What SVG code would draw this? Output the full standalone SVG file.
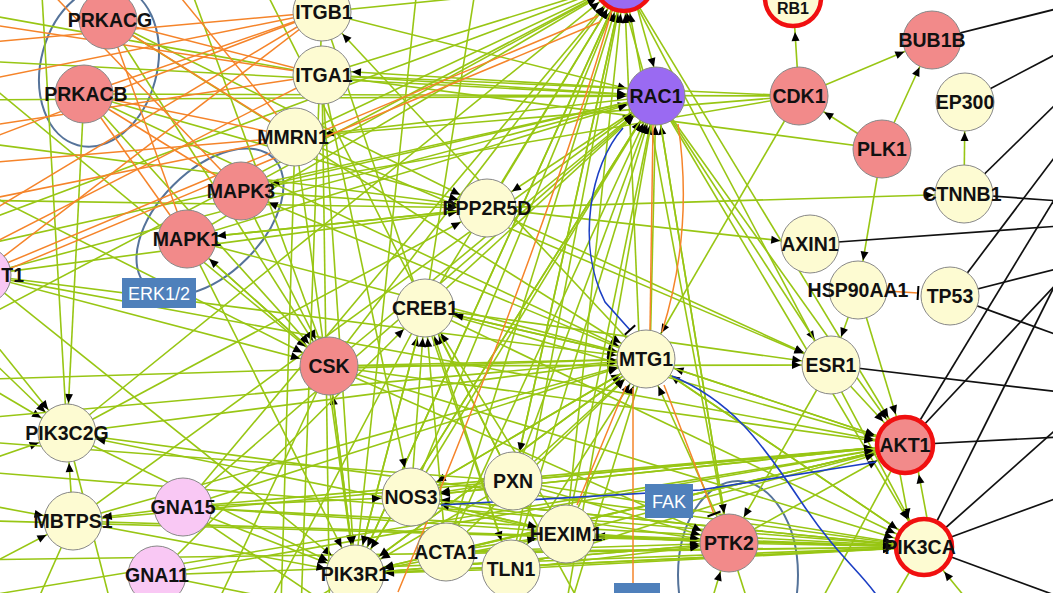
<svg xmlns="http://www.w3.org/2000/svg" width="1053" height="593" viewBox="0 0 1053 593">
<style>
.a,.b,.n,.o,.k,.bl{fill:none;stroke-width:1.6}
.a,.b,.n{stroke:#98c614}
.a{marker-end:url(#ma)}
.b{marker-end:url(#mb)}
.o{stroke:#f5842a;stroke-width:1.5}
.k{stroke:#111;stroke-width:1.7}
.bl{stroke:#1c3fc4;stroke-width:1.6}
.ah{fill:#000;stroke:none}
.tee{fill:none;stroke:#000;stroke-width:2}
.nd circle{stroke:#888;stroke-width:1}
.y circle{fill:#fdfbd2}
.p circle{fill:#f28a8a}
.v circle{fill:#9a6af2}
.l circle{fill:#f9c8f4}
.r circle{stroke:#f01010;stroke-width:4.5}
.nd text{font-family:"Liberation Sans",Arial,sans-serif;font-weight:bold;font-size:19.5px;text-anchor:middle;fill:#111}
.ell{fill:none;stroke:#55739a;stroke-width:2}
.box rect{fill:#4f80bb}
.box text{font-family:"Liberation Sans",Arial,sans-serif;font-size:18px;fill:#fff;text-anchor:middle}
</style>
<defs>
<marker id="ma" markerUnits="userSpaceOnUse" orient="auto" refX="30" refY="0" markerWidth="10" markerHeight="10" overflow="visible"><path class="ah" d="M0,0L-9,-4L-9,4Z"/></marker>
<marker id="mb" markerUnits="userSpaceOnUse" orient="auto" refX="32" refY="0" markerWidth="10" markerHeight="10" overflow="visible"><path class="ah" d="M0,0L-9,-4L-9,4Z"/></marker>
<marker id="mt" markerUnits="userSpaceOnUse" orient="auto" refX="0" refY="0" markerWidth="10" markerHeight="10" overflow="visible"><path class="tee" d="M0,-7L0,7"/></marker>
</defs>
<rect width="1053" height="593" fill="#fff"/>
<ellipse class="ell" cx="99" cy="66" rx="58" ry="82" transform="rotate(15 99 66)"/>
<ellipse class="ell" cx="210" cy="222" rx="90" ry="52" transform="rotate(-45 210 222)"/>
<ellipse class="ell" cx="738" cy="575" rx="60" ry="94"/>
<g id="connectors">
<g id="green">
<line class="a" x1="799" y1="96" x2="932" y2="40"/>
<line class="b" x1="799" y1="96" x2="793" y2="0"/>
<line class="a" x1="882" y1="149" x2="932" y2="40"/>
<line class="a" x1="882" y1="149" x2="799" y2="96"/>
<line class="a" x1="882" y1="149" x2="858" y2="290"/>
<line class="a" x1="964" y1="194" x2="965" y2="102"/>
<line class="a" x1="487" y1="208" x2="964" y2="194"/>
<line class="a" x1="487" y1="208" x2="810" y2="244"/>
<line class="a" x1="858" y1="290" x2="831" y2="365"/>
<line class="b" x1="858" y1="290" x2="905" y2="445"/>
<line class="b" x1="831" y1="365" x2="905" y2="445"/>
<line class="b" x1="895" y1="447" x2="914" y2="549"/>
<line class="b" x1="932" y1="545" x2="913" y2="443"/>
<line class="a" x1="799" y1="96" x2="646" y2="359"/>
<line class="n" x1="322" y1="75" x2="799" y2="96"/>
<line class="n" x1="84" y1="94" x2="799" y2="96"/>
<line class="n" x1="295" y1="137" x2="799" y2="96"/>
<line class="n" x1="241" y1="191" x2="799" y2="96"/>
<line class="n" x1="882" y1="149" x2="322" y2="75"/>
<line class="b" x1="295" y1="137" x2="624" y2="-18"/>
<line class="b" x1="322" y1="75" x2="624" y2="-18"/>
<line class="b" x1="322" y1="12" x2="624" y2="-18"/>
<line class="b" x1="487" y1="208" x2="624" y2="-18"/>
<line class="b" x1="425" y1="308" x2="624" y2="-18"/>
<line class="b" x1="329" y1="366" x2="624" y2="-18"/>
<line class="b" x1="241" y1="191" x2="624" y2="-18"/>
<line class="b" x1="187" y1="239" x2="624" y2="-18"/>
<line class="b" x1="355" y1="574" x2="624" y2="-18"/>
<line class="b" x1="411" y1="497" x2="624" y2="-18"/>
<line class="b" x1="446" y1="552" x2="624" y2="-18"/>
<line class="b" x1="513" y1="481" x2="624" y2="-18"/>
<line class="b" x1="511" y1="569" x2="624" y2="-18"/>
<line class="b" x1="566" y1="534" x2="624" y2="-18"/>
<line class="b" x1="640" y1="359" x2="624" y2="-18"/>
<line class="b" x1="183" y1="507" x2="624" y2="-18"/>
<line class="b" x1="67" y1="433" x2="624" y2="-18"/>
<line class="b" x1="729" y1="543" x2="624" y2="-18"/>
<line class="b" x1="-40" y1="330" x2="624" y2="-18"/>
<line class="b" x1="-40" y1="230" x2="624" y2="-18"/>
<line class="b" x1="650" y1="96" x2="618" y2="-18"/>
<line class="a" x1="630" y1="-18" x2="662" y2="96"/>
<line class="a" x1="322" y1="12" x2="656" y2="96"/>
<line class="a" x1="322" y1="75" x2="656" y2="96"/>
<line class="a" x1="329" y1="366" x2="656" y2="96"/>
<line class="a" x1="425" y1="308" x2="656" y2="96"/>
<line class="a" x1="411" y1="497" x2="656" y2="96"/>
<line class="a" x1="355" y1="574" x2="656" y2="96"/>
<line class="a" x1="446" y1="552" x2="656" y2="96"/>
<line class="a" x1="513" y1="481" x2="656" y2="96"/>
<line class="a" x1="511" y1="569" x2="656" y2="96"/>
<line class="a" x1="566" y1="534" x2="656" y2="96"/>
<line class="a" x1="650" y1="359" x2="656" y2="96"/>
<line class="a" x1="183" y1="507" x2="656" y2="96"/>
<line class="a" x1="73" y1="521" x2="656" y2="96"/>
<line class="a" x1="729" y1="543" x2="656" y2="96"/>
<line class="a" x1="187" y1="239" x2="656" y2="96"/>
<line class="a" x1="-18" y1="275" x2="656" y2="96"/>
<line class="a" x1="-40" y1="100" x2="656" y2="96"/>
<line class="a" x1="-40" y1="60" x2="656" y2="96"/>
<line class="a" x1="656" y1="96" x2="487" y2="208"/>
<line class="a" x1="656" y1="90" x2="322" y2="70"/>
<line class="a" x1="656" y1="96" x2="295" y2="137"/>
<line class="a" x1="656" y1="96" x2="241" y2="191"/>
<line class="b" x1="656" y1="96" x2="905" y2="445"/>
<line class="b" x1="656" y1="96" x2="924" y2="547"/>
<line class="a" x1="656" y1="96" x2="831" y2="365"/>
<line class="a" x1="329" y1="366" x2="646" y2="359"/>
<line class="a" x1="425" y1="308" x2="646" y2="359"/>
<line class="a" x1="411" y1="497" x2="646" y2="359"/>
<line class="a" x1="513" y1="481" x2="646" y2="359"/>
<line class="a" x1="446" y1="552" x2="646" y2="359"/>
<line class="a" x1="355" y1="574" x2="646" y2="359"/>
<line class="a" x1="511" y1="569" x2="646" y2="359"/>
<line class="a" x1="566" y1="534" x2="646" y2="359"/>
<line class="a" x1="183" y1="507" x2="646" y2="359"/>
<line class="a" x1="73" y1="521" x2="646" y2="359"/>
<line class="a" x1="67" y1="433" x2="646" y2="359"/>
<line class="a" x1="-18" y1="275" x2="646" y2="359"/>
<line class="a" x1="729" y1="543" x2="646" y2="359"/>
<line class="a" x1="924" y1="547" x2="646" y2="359"/>
<line class="a" x1="905" y1="445" x2="646" y2="359"/>
<line class="a" x1="-40" y1="380" x2="646" y2="359"/>
<line class="a" x1="187" y1="239" x2="646" y2="359"/>
<line class="a" x1="84" y1="94" x2="646" y2="359"/>
<line class="a" x1="108" y1="20" x2="646" y2="359"/>
<line class="a" x1="646" y1="359" x2="322" y2="12"/>
<line class="b" x1="355" y1="574" x2="924" y2="547"/>
<line class="b" x1="446" y1="552" x2="924" y2="547"/>
<line class="b" x1="511" y1="569" x2="924" y2="547"/>
<line class="b" x1="566" y1="534" x2="924" y2="547"/>
<line class="b" x1="513" y1="481" x2="924" y2="547"/>
<line class="b" x1="411" y1="497" x2="924" y2="547"/>
<line class="b" x1="329" y1="366" x2="924" y2="547"/>
<line class="b" x1="183" y1="507" x2="924" y2="547"/>
<line class="b" x1="157" y1="575" x2="924" y2="547"/>
<line class="b" x1="73" y1="521" x2="924" y2="547"/>
<line class="b" x1="646" y1="359" x2="924" y2="547"/>
<line class="b" x1="729" y1="543" x2="924" y2="547"/>
<line class="b" x1="425" y1="308" x2="924" y2="547"/>
<line class="b" x1="-40" y1="560" x2="924" y2="547"/>
<line class="b" x1="624" y1="-18" x2="924" y2="547"/>
<line class="b" x1="67" y1="433" x2="924" y2="547"/>
<line class="b" x1="-40" y1="470" x2="924" y2="547"/>
<line class="b" x1="355" y1="574" x2="905" y2="445"/>
<line class="b" x1="446" y1="552" x2="905" y2="445"/>
<line class="b" x1="411" y1="497" x2="905" y2="445"/>
<line class="b" x1="513" y1="481" x2="905" y2="445"/>
<line class="b" x1="566" y1="534" x2="905" y2="445"/>
<line class="b" x1="329" y1="366" x2="905" y2="445"/>
<line class="b" x1="73" y1="521" x2="905" y2="445"/>
<line class="b" x1="183" y1="507" x2="905" y2="445"/>
<line class="b" x1="-18" y1="275" x2="905" y2="445"/>
<line class="b" x1="646" y1="359" x2="905" y2="445"/>
<line class="b" x1="729" y1="543" x2="905" y2="445"/>
<line class="b" x1="425" y1="308" x2="905" y2="445"/>
<line class="b" x1="624" y1="-18" x2="905" y2="445"/>
<line class="b" x1="511" y1="569" x2="905" y2="445"/>
<line class="b" x1="157" y1="575" x2="905" y2="445"/>
<line class="a" x1="108" y1="20" x2="329" y2="366"/>
<line class="a" x1="84" y1="94" x2="329" y2="366"/>
<line class="a" x1="-18" y1="275" x2="329" y2="366"/>
<line class="a" x1="-40" y1="60" x2="329" y2="366"/>
<line class="a" x1="-40" y1="180" x2="329" y2="366"/>
<line class="a" x1="187" y1="239" x2="329" y2="366"/>
<line class="a" x1="355" y1="574" x2="329" y2="366"/>
<line class="a" x1="241" y1="191" x2="329" y2="366"/>
<line class="a" x1="355" y1="574" x2="425" y2="308"/>
<line class="a" x1="446" y1="552" x2="425" y2="308"/>
<line class="a" x1="411" y1="497" x2="425" y2="308"/>
<line class="a" x1="511" y1="569" x2="425" y2="308"/>
<line class="a" x1="513" y1="481" x2="425" y2="308"/>
<line class="a" x1="566" y1="534" x2="425" y2="308"/>
<line class="a" x1="646" y1="359" x2="425" y2="308"/>
<line class="a" x1="157" y1="575" x2="425" y2="308"/>
<line class="a" x1="108" y1="20" x2="487" y2="208"/>
<line class="a" x1="84" y1="94" x2="487" y2="208"/>
<line class="a" x1="-18" y1="275" x2="487" y2="208"/>
<line class="a" x1="241" y1="191" x2="487" y2="208"/>
<line class="a" x1="187" y1="239" x2="487" y2="208"/>
<line class="a" x1="-40" y1="140" x2="487" y2="208"/>
<line class="a" x1="-40" y1="200" x2="487" y2="208"/>
<line class="a" x1="67" y1="433" x2="487" y2="208"/>
<line class="a" x1="329" y1="366" x2="355" y2="574"/>
<line class="a" x1="646" y1="359" x2="355" y2="574"/>
<line class="a" x1="513" y1="481" x2="355" y2="574"/>
<line class="a" x1="656" y1="96" x2="355" y2="574"/>
<line class="a" x1="624" y1="-18" x2="355" y2="574"/>
<line class="a" x1="905" y1="445" x2="355" y2="574"/>
<line class="a" x1="924" y1="547" x2="355" y2="574"/>
<line class="a" x1="729" y1="543" x2="355" y2="574"/>
<line class="a" x1="566" y1="534" x2="355" y2="574"/>
<line class="a" x1="511" y1="569" x2="355" y2="574"/>
<line class="a" x1="183" y1="507" x2="355" y2="574"/>
<line class="a" x1="73" y1="521" x2="355" y2="574"/>
<line class="a" x1="67" y1="433" x2="355" y2="574"/>
<line class="a" x1="187" y1="239" x2="355" y2="574"/>
<line class="a" x1="-18" y1="275" x2="355" y2="574"/>
<line class="a" x1="425" y1="308" x2="355" y2="574"/>
<line class="a" x1="295" y1="137" x2="355" y2="574"/>
<line class="a" x1="322" y1="75" x2="355" y2="574"/>
<line class="a" x1="-40" y1="330" x2="67" y2="433"/>
<line class="a" x1="-40" y1="370" x2="67" y2="433"/>
<line class="a" x1="73" y1="521" x2="67" y2="433"/>
<line class="a" x1="-40" y1="470" x2="67" y2="433"/>
<line class="a" x1="566" y1="534" x2="67" y2="433"/>
<line class="a" x1="-40" y1="300" x2="67" y2="433"/>
<line class="a" x1="84" y1="94" x2="67" y2="433"/>
<line class="a" x1="183" y1="507" x2="73" y2="521"/>
<line class="a" x1="-40" y1="580" x2="73" y2="521"/>
<line class="a" x1="-40" y1="500" x2="73" y2="521"/>
<line class="a" x1="646" y1="359" x2="241" y2="191"/>
<line class="a" x1="487" y1="208" x2="187" y2="239"/>
<line class="a" x1="329" y1="366" x2="187" y2="239"/>
<line class="a" x1="624" y1="-18" x2="513" y2="481"/>
<line class="a" x1="513" y1="481" x2="411" y2="497"/>
<line class="a" x1="566" y1="534" x2="411" y2="497"/>
<line class="a" x1="646" y1="359" x2="411" y2="497"/>
<line class="a" x1="924" y1="547" x2="411" y2="497"/>
<line class="a" x1="905" y1="445" x2="411" y2="497"/>
<line class="a" x1="183" y1="507" x2="411" y2="497"/>
<line class="a" x1="411" y1="497" x2="566" y2="534"/>
<line class="a" x1="729" y1="543" x2="566" y2="534"/>
<line class="a" x1="446" y1="552" x2="566" y2="534"/>
<line class="a" x1="513" y1="481" x2="729" y2="543"/>
<line class="a" x1="566" y1="534" x2="729" y2="543"/>
<line class="a" x1="511" y1="569" x2="729" y2="543"/>
<line class="a" x1="446" y1="552" x2="729" y2="543"/>
<line class="a" x1="411" y1="497" x2="729" y2="543"/>
<line class="a" x1="355" y1="574" x2="729" y2="543"/>
<line class="a" x1="329" y1="366" x2="729" y2="543"/>
<line class="a" x1="831" y1="365" x2="729" y2="543"/>
<line class="a" x1="700" y1="640" x2="729" y2="543"/>
<line class="a" x1="656" y1="96" x2="729" y2="543"/>
<line class="a" x1="183" y1="507" x2="729" y2="543"/>
<line class="a" x1="425" y1="308" x2="831" y2="365"/>
<line class="a" x1="487" y1="208" x2="831" y2="365"/>
<line class="a" x1="295" y1="137" x2="831" y2="365"/>
<line class="a" x1="329" y1="366" x2="831" y2="365"/>
<line class="a" x1="322" y1="12" x2="511" y2="569"/>
<line class="a" x1="322" y1="75" x2="411" y2="497"/>
<line class="b" x1="1000" y1="640" x2="924" y2="547"/>
<line class="b" x1="-40" y1="520" x2="924" y2="547"/>
<line class="b" x1="-40" y1="600" x2="905" y2="445"/>
<line class="n" x1="355" y1="574" x2="250" y2="640"/>
<line class="n" x1="513" y1="481" x2="600" y2="640"/>
<line class="n" x1="646" y1="359" x2="560" y2="640"/>
<line class="n" x1="656" y1="96" x2="560" y2="640"/>
<line class="n" x1="905" y1="445" x2="800" y2="640"/>
<line class="n" x1="924" y1="547" x2="870" y2="640"/>
<line class="n" x1="329" y1="366" x2="200" y2="640"/>
<line class="n" x1="425" y1="308" x2="250" y2="640"/>
<line class="n" x1="67" y1="433" x2="120" y2="640"/>
<line class="n" x1="183" y1="507" x2="380" y2="640"/>
<line class="n" x1="157" y1="575" x2="480" y2="640"/>
<line class="n" x1="73" y1="521" x2="20" y2="640"/>
<line class="n" x1="729" y1="543" x2="760" y2="640"/>
<line class="n" x1="-40" y1="10" x2="322" y2="75"/>
<line class="n" x1="-40" y1="250" x2="656" y2="96"/>
<line class="n" x1="-40" y1="420" x2="646" y2="359"/>
<line class="n" x1="-40" y1="440" x2="513" y2="481"/>
<line class="n" x1="40" y1="-40" x2="67" y2="433"/>
<line class="n" x1="180" y1="-40" x2="329" y2="366"/>
<line class="n" x1="250" y1="-40" x2="513" y2="481"/>
<line class="n" x1="420" y1="-40" x2="355" y2="574"/>
<line class="n" x1="480" y1="-40" x2="425" y2="308"/>
<line class="n" x1="322" y1="12" x2="300" y2="640"/>
<line class="n" x1="322" y1="75" x2="330" y2="640"/>
<line class="n" x1="295" y1="137" x2="280" y2="640"/>
</g>
<g id="orange">
<line class="o" x1="-40" y1="45" x2="322" y2="12"/>
<line class="o" x1="-40" y1="85" x2="322" y2="12"/>
<line class="o" x1="-40" y1="20" x2="322" y2="75"/>
<line class="o" x1="-40" y1="130" x2="322" y2="75"/>
<line class="o" x1="-40" y1="165" x2="295" y2="137"/>
<line class="o" x1="-40" y1="230" x2="322" y2="12"/>
<line class="o" x1="-40" y1="205" x2="295" y2="137"/>
<line class="o" x1="-40" y1="290" x2="322" y2="12"/>
<line class="o" x1="-40" y1="260" x2="322" y2="75"/>
<line class="o" x1="-40" y1="150" x2="322" y2="12"/>
<line class="o" x1="150" y1="-40" x2="295" y2="137"/>
<line class="o" x1="108" y1="20" x2="322" y2="75"/>
<line class="o" x1="108" y1="20" x2="295" y2="137"/>
<line class="o" x1="84" y1="94" x2="322" y2="12"/>
<line class="o" x1="84" y1="94" x2="295" y2="137"/>
<line class="o" x1="108" y1="20" x2="187" y2="239"/>
<line class="o" x1="84" y1="94" x2="187" y2="239"/>
<line class="o" x1="84" y1="94" x2="241" y2="191"/>
<line class="o" x1="20" y1="-40" x2="241" y2="191"/>
<line class="o" x1="-5" y1="268" x2="598" y2="16"/>
<line class="o" x1="-3" y1="274" x2="600" y2="22"/>
<line class="o" x1="653" y1="125" x2="650" y2="330"/>
<path class="o" d="M678,124 Q694,230 662,332"/>
<line class="o" x1="664" y1="385" x2="714" y2="514" marker-end="url(#mt)"/>
<line class="o" x1="626" y1="386" x2="577" y2="505"/>
<line class="o" x1="633" y1="388" x2="633" y2="583"/>
<path class="o" d="M612,10 Q545,240 398,592"/>
<line class="o" x1="887" y1="291" x2="918" y2="293" marker-end="url(#mt)"/>
</g>
<g id="blue">
<path class="bl" d="M623,128 C590,165 576,245 605,302 L630,330" marker-end="url(#mt)"/>
<path class="bl" d="M672,376 C730,400 760,440 800,500 S860,570 880,600"/>
<path class="bl" d="M441,505 L700,490 L876,462"/>
</g>
<g id="black">
<line class="k" x1="932" y1="40" x2="1060" y2="8"/>
<line class="k" x1="965" y1="102" x2="1060" y2="52"/>
<line class="k" x1="964" y1="194" x2="1060" y2="100"/>
<line class="k" x1="964" y1="194" x2="1060" y2="201"/>
<line class="k" x1="810" y1="244" x2="1060" y2="226"/>
<line class="k" x1="950" y1="296" x2="1060" y2="150"/>
<line class="k" x1="950" y1="296" x2="1060" y2="268"/>
<line class="k" x1="950" y1="296" x2="1060" y2="336"/>
<line class="k" x1="831" y1="365" x2="1060" y2="392"/>
<line class="k" x1="905" y1="445" x2="1060" y2="190"/>
<line class="k" x1="905" y1="445" x2="1060" y2="280"/>
<line class="k" x1="905" y1="445" x2="1060" y2="437"/>
<line class="k" x1="924" y1="547" x2="1070" y2="255"/>
<line class="k" x1="924" y1="547" x2="1060" y2="426"/>
<line class="k" x1="924" y1="547" x2="1060" y2="497"/>
<line class="k" x1="924" y1="547" x2="1060" y2="597"/>
</g>
</g>
<g id="labels-boxes">
<g id="box-erk" class="box"><rect x="122" y="278" width="74" height="30"/><text x="159" y="300">ERK1/2</text></g>
<g id="box-fak" class="box"><rect x="645" y="484" width="48" height="34"/><text x="669" y="508">FAK</text></g>
<g id="box-bottom" class="box"><rect x="614" y="583" width="46" height="30"/></g>
</g>
<g id="nodes">
<g id="RACtop" class="nd v r"><circle cx="624" cy="-18" r="29"/></g>
<g id="RB1" class="nd y r"><circle cx="793" cy="-2" r="28"/><text x="793" y="14" style="font-size:16px">RB1</text></g>
<g id="PRKACG" class="nd p"><circle cx="108" cy="20" r="29"/><text x="110" y="27">PRKACG</text></g>
<g id="PRKACB" class="nd p"><circle cx="84" cy="94" r="29"/><text x="86" y="101">PRKACB</text></g>
<g id="ITGB1" class="nd y"><circle cx="322" cy="12" r="29"/><text x="324" y="19">ITGB1</text></g>
<g id="ITGA1" class="nd y"><circle cx="322" cy="75" r="29"/><text x="324" y="82">ITGA1</text></g>
<g id="MMRN1" class="nd y"><circle cx="295" cy="137" r="29"/><text x="293" y="144">MMRN1</text></g>
<g id="MAPK3" class="nd p"><circle cx="241" cy="191" r="29"/><text x="241" y="198">MAPK3</text></g>
<g id="MAPK1" class="nd p"><circle cx="187" cy="239" r="29"/><text x="187" y="246">MAPK1</text></g>
<g id="T1" class="nd l"><circle cx="-18" cy="275" r="29"/><text x="24" y="282" style="text-anchor:end">T1</text></g>
<g id="RAC1" class="nd v"><circle cx="656" cy="96" r="29"/><text x="656" y="103">RAC1</text></g>
<g id="PPP2R5D" class="nd y"><circle cx="487" cy="208" r="29"/><text x="487" y="215">PPP2R5D</text></g>
<g id="CDK1" class="nd p"><circle cx="799" cy="96" r="29"/><text x="799" y="103">CDK1</text></g>
<g id="BUB1B" class="nd p"><circle cx="932" cy="40" r="29"/><text x="932" y="47">BUB1B</text></g>
<g id="EP300" class="nd y"><circle cx="965" cy="102" r="29"/><text x="965" y="109">EP300</text></g>
<g id="PLK1" class="nd p"><circle cx="882" cy="149" r="29"/><text x="882" y="156">PLK1</text></g>
<g id="CTNNB1" class="nd y"><circle cx="964" cy="194" r="29"/><text x="962" y="201">CTNNB1</text></g>
<g id="AXIN1" class="nd y"><circle cx="810" cy="244" r="29"/><text x="810" y="251">AXIN1</text></g>
<g id="HSP90AA1" class="nd y"><circle cx="858" cy="290" r="29"/><text x="858" y="297">HSP90AA1</text></g>
<g id="TP53" class="nd y"><circle cx="950" cy="296" r="29"/><text x="950" y="303">TP53</text></g>
<g id="CREB1" class="nd y"><circle cx="425" cy="308" r="29"/><text x="425" y="315">CREB1</text></g>
<g id="CSK" class="nd p"><circle cx="329" cy="366" r="29"/><text x="329" y="373">CSK</text></g>
<g id="MTG1" class="nd y"><circle cx="646" cy="359" r="29"/><text x="646" y="366">MTG1</text></g>
<g id="ESR1" class="nd y"><circle cx="831" cy="365" r="29"/><text x="831" y="372">ESR1</text></g>
<g id="AKT1" class="nd p r"><circle cx="905" cy="445" r="28"/><text x="905" y="452">AKT1</text></g>
<g id="PIK3CA" class="nd y r"><circle cx="924" cy="547" r="28"/><text x="920" y="554">PIK3CA</text></g>
<g id="PTK2" class="nd p"><circle cx="729" cy="543" r="29"/><text x="729" y="550">PTK2</text></g>
<g id="PIK3C2G" class="nd y"><circle cx="67" cy="433" r="29"/><text x="67" y="440">PIK3C2G</text></g>
<g id="MBTPS1" class="nd y"><circle cx="73" cy="521" r="29"/><text x="73" y="528">MBTPS1</text></g>
<g id="GNA15" class="nd l"><circle cx="183" cy="507" r="29"/><text x="183" y="514">GNA15</text></g>
<g id="GNA11" class="nd l"><circle cx="157" cy="575" r="29"/><text x="157" y="582">GNA11</text></g>
<g id="NOS3" class="nd y"><circle cx="411" cy="497" r="29"/><text x="411" y="504">NOS3</text></g>
<g id="PXN" class="nd y"><circle cx="513" cy="481" r="29"/><text x="513" y="488">PXN</text></g>
<g id="HEXIM1" class="nd y"><circle cx="566" cy="534" r="29"/><text x="566" y="541">HEXIM1</text></g>
<g id="ACTA1" class="nd y"><circle cx="446" cy="552" r="29"/><text x="446" y="559">ACTA1</text></g>
<g id="TLN1" class="nd y"><circle cx="511" cy="569" r="29"/><text x="511" y="576">TLN1</text></g>
<g id="PIK3R1" class="nd y"><circle cx="355" cy="574" r="29"/><text x="355" y="581">PIK3R1</text></g>
</g>
</svg>
